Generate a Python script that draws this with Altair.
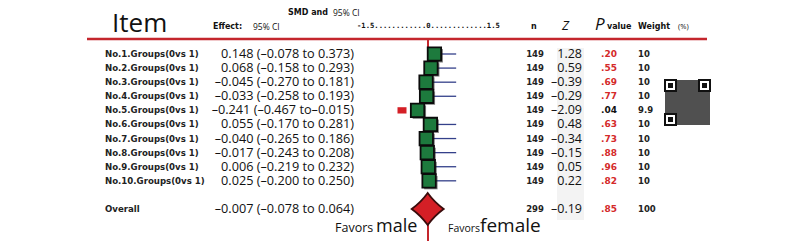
import altair as alt
import pandas as pd

# ---------------- data ----------------
labels = ["No.1.Groups(0vs 1)", "No.2.Groups(0vs 1)", "No.3.Groups(0vs 1)",
          "No.4.Groups(0vs 1)", "No.5.Groups(0vs 1)", "No.6.Groups(0vs 1)",
          "No.7.Groups(0vs 1)", "No.8.Groups(0vs 1)", "No.9.Groups(0vs 1)",
          "No.10.Groups(0vs 1)"]
smd = [0.148, 0.068, -0.045, -0.033, -0.241, 0.055, -0.040, -0.017, 0.006, 0.025]
ci_low = [-0.078, -0.158, -0.270, -0.258, -0.467, -0.170, -0.265, -0.243, -0.219, -0.200]
ci_high = [0.373, 0.293, 0.181, 0.193, -0.015, 0.281, 0.186, 0.208, 0.232, 0.250]
n_vals = [149, 149, 149, 149, 149, 149, 149, 149, 149, 149]
z_vals = [1.28, 0.59, -0.39, -0.29, -2.09, 0.48, -0.34, -0.15, 0.05, 0.22]
p_vals = [".20", ".55", ".69", ".77", ".04", ".63", ".73", ".88", ".96", ".82"]
p_red = [True, True, True, True, False, True, True, True, True, True]
weights = ["10", "10", "10", "10", "9.9", "10", "10", "10", "10", "10"]
# right-hand whisker end as drawn in the figure (None = no whisker)
whisker_end = [0.65, 0.65, 0.65, 0.65, None, 0.65, 0.65, 0.65, 0.65, 0.65]
# extra red marker drawn left of row 5
marker_rows = [5]
marker_vals = [-0.60]

overall_label = "Overall"
overall_smd = -0.007
overall_low = -0.078
overall_high = 0.064
overall_n = 299
overall_z = -0.19
overall_p = ".85"
overall_weight = "100"
overall_row = 12


def fmt(v, d=3):
    return f"{v:.{d}f}".replace("-", "\u2013")


def effect_text(m, lo, hi):
    sep = "" if hi < 0 else " "
    return f"{fmt(m)} ({fmt(lo)} to{sep}{fmt(hi)})"


rows = pd.DataFrame({
    "row": list(range(1, 11)) + [overall_row],
    "label": labels + [overall_label],
    "smd": smd + [overall_smd],
    "effect": [effect_text(m, l, h) for m, l, h in zip(smd, ci_low, ci_high)]
              + [effect_text(overall_smd, overall_low, overall_high)],
    "n": [str(v) for v in n_vals] + [str(overall_n)],
    "z": [fmt(v, 2) for v in z_vals] + [fmt(overall_z, 2)],
    "p": p_vals + [overall_p],
    "pcol": ["red" if r else "black" for r in p_red] + ["red"],
    "w": weights + [overall_weight],
})
studies = rows[rows["row"] < overall_row]
whisk = pd.DataFrame({"row": list(range(1, 11)), "smd": smd, "wend": whisker_end}).dropna()
markers = pd.DataFrame({"row": marker_rows, "v": marker_vals})
overall_df = pd.DataFrame({"row": [overall_row], "smd": [overall_smd]})
zero_df = pd.DataFrame({"v": [0.0]})

# ---------------- scales ----------------
xs = alt.Scale(domain=[-1.5, 1.5], range=[355, 485])
ys = alt.Scale(domain=[1, 12], range=[46, 201])
X = lambda f: alt.X(f, type="quantitative", scale=xs, axis=None)
Y = alt.Y("row:Q", scale=ys, axis=None)

RED = "#c4262d"


def txt(s, x, y, size, font="DejaVu Sans", weight="normal", style="normal",
        color="#111", align="left", baseline="middle"):
    return alt.Chart(pd.DataFrame({"t": [s]})).mark_text(
        font=font, fontSize=size, fontWeight=weight, fontStyle=style,
        color=color, align=align, baseline=baseline
    ).encode(x=alt.value(x), y=alt.value(y), text="t:N")


def box(x, y, x2, y2, color):
    return alt.Chart(pd.DataFrame({"a": [0]})).mark_rect(color=color).encode(
        x=alt.value(x), x2=alt.value(x2), y=alt.value(y), y2=alt.value(y2))


layers = []
# faint band behind Z column
layers.append(box(549, 40, 576, 212, "#f3f3f3"))

# QR-code like decoration
qx, qy, qs = 656, 71, 47
layers.append(box(qx, qy, qx + qs, qy + qs, "#fff"))
layers.append(box(qx + 1, qy + 1, qx + qs - 1, qy + qs - 1, "#505050"))
for fx, fy in [(qx, qy), (qx + qs - 13, qy), (qx, qy + qs - 13)]:
    layers.append(box(fx, fy, fx + 13, fy + 13, "#111"))
    layers.append(box(fx + 2, fy + 2, fx + 11, fy + 11, "#fff"))
    layers.append(box(fx + 4, fy + 4, fx + 9, fy + 9, "#111"))

# header red line and vertical red lines
layers.append(alt.Chart(pd.DataFrame({"a": [0]})).mark_rule(color=RED, strokeWidth=2.5).encode(
    x=alt.value(79), x2=alt.value(699), y=alt.value(31)))
layers.append(alt.Chart(zero_df).mark_rule(color=RED, strokeWidth=2).encode(
    x=X("v"), y=alt.value(31), y2=alt.value(40)))
layers.append(alt.Chart(zero_df).mark_rule(color=RED, strokeWidth=2).encode(
    x=X("v"), y=alt.value(214), y2=alt.value(233)))

# whiskers
layers.append(alt.Chart(whisk).mark_rule(color="#34408a", strokeWidth=1.3).encode(
    x=X("smd"), x2="wend:Q", y=Y))
# box shadows and boxes
layers.append(alt.Chart(studies).mark_square(size=180, color="#1a1a1a", opacity=0.55,
                                              xOffset=1.8, yOffset=1.8).encode(x=X("smd"), y=Y))
layers.append(alt.Chart(studies).mark_square(size=180, fill="#1d7a3d", fillOpacity=1,
                                              stroke="#0b0b0b", strokeWidth=1.8).encode(x=X("smd"), y=Y))
# red marker row 5
layers.append(alt.Chart(markers).mark_point(
    shape="M-1,-0.7L1,-0.7L1,0.7L-1,0.7Z", size=81, filled=True, color="#d41f26", opacity=1
).encode(x=X("v"), y=Y))
# overall diamond
diamond = "M0,-1 Q0.42,-0.42 1,0 Q0.42,0.42 0,1 Q-0.42,0.42 -1,0 Q-0.42,-0.42 0,-1 Z"
layers.append(alt.Chart(overall_df).mark_point(
    shape=diamond, size=1024, filled=True, fill="#d41f26", fillOpacity=1,
    stroke="#3a0c0c", strokeWidth=1.8, opacity=1
).encode(x=X("smd"), y=Y))

# row texts
layers.append(alt.Chart(rows).mark_text(font="DejaVu Sans", fontSize=8.6, fontWeight="bold",
                                        align="left", baseline="middle", color="#222").encode(
    x=alt.value(97), y=Y, text="label:N"))
layers.append(alt.Chart(rows).mark_text(font="Open Sans", fontSize=12.7, align="right",
                                        baseline="middle", color="#111").encode(
    x=alt.value(346), y=Y, text="effect:N"))
layers.append(alt.Chart(rows).mark_text(font="DejaVu Sans", fontSize=8.5, fontWeight="bold",
                                        align="center", baseline="middle", color="#222").encode(
    x=alt.value(527), y=Y, text="n:N"))
layers.append(alt.Chart(rows).mark_text(font="Open Sans", fontSize=12.5, align="right",
                                        baseline="middle", color="#111").encode(
    x=alt.value(574), y=Y, text="z:N"))
layers.append(alt.Chart(rows).mark_text(font="DejaVu Sans", fontSize=9, fontWeight="bold",
                                        align="center", baseline="middle").encode(
    x=alt.value(601), y=Y, text="p:N",
    color=alt.Color("pcol:N", scale=alt.Scale(domain=["red", "black"], range=["#d42a2a", "#111"]),
                    legend=None)))
layers.append(alt.Chart(rows).mark_text(font="DejaVu Sans", fontSize=8.5, fontWeight="bold",
                                        align="left", baseline="middle", color="#222").encode(
    x=alt.value(630), y=Y, text="w:N"))

# header texts
layers += [
    txt("Item", 104, 24, 26, font="Open Sans", baseline="alphabetic"),
    txt("SMD and", 280, 5, 8, weight="bold"),
    txt("95% CI", 325, 5, 8.5, font="Open Sans"),
    txt("Effect:", 205, 19, 8, weight="bold"),
    txt("95% CI", 245, 19, 8.5, font="Open Sans"),
    txt("-1.5............0.............1.5", 349, 18, 7.2, font="DejaVu Sans Mono", weight="bold"),
    txt("n", 523, 19, 8, weight="bold"),
    txt("Z", 554, 22, 13, font="Open Sans", style="italic", baseline="alphabetic"),
    txt("P", 587, 22, 17, font="Open Sans", style="italic", baseline="alphabetic"),
    txt("value", 599, 19, 8, weight="bold"),
    txt("Weight", 630, 19, 8, weight="bold"),
    txt("(%)", 670, 19, 7.5, font="Open Sans"),
    txt("Favors", 327, 224, 12.5, font="Open Sans", baseline="alphabetic"),
    txt("male", 368, 224, 18, font="Open Sans", baseline="alphabetic"),
    txt("Favors", 440, 224, 10.5, font="Open Sans", baseline="alphabetic"),
    txt("female", 472, 224, 19, font="Open Sans", baseline="alphabetic"),
]

chart = alt.layer(*layers).properties(
    width=784, height=233, padding=0,
    autosize=alt.AutoSizeParams(type="none"),
    background="white",
).configure_view(stroke=None)

chart.save("out.html", embed_options={"renderer": "svg", "actions": False})
